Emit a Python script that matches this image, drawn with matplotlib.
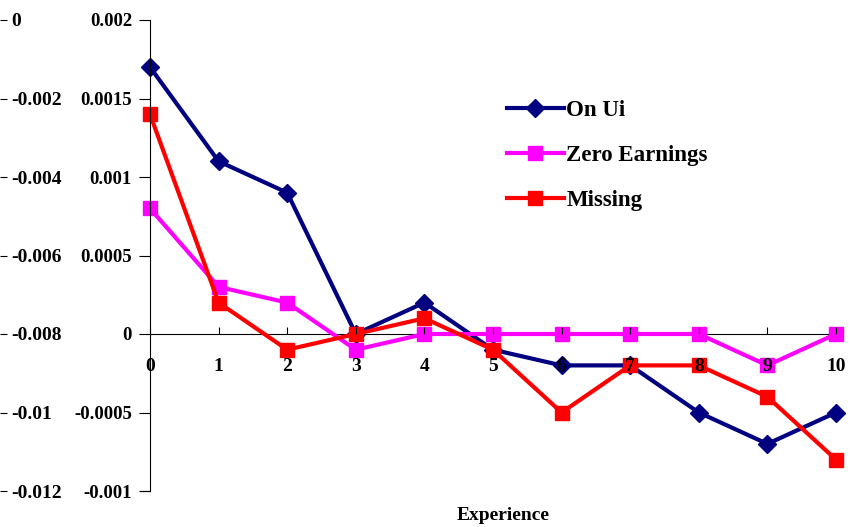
import numpy as np
import matplotlib
matplotlib.use("Agg")
import matplotlib.pyplot as plt

# Experience 0..10
experience = list(range(11))
on_ui = [0.0017, 0.0011, 0.0009, 0.0, 0.0002, -0.0001, -0.0002, -0.0002, -0.0005, -0.0007, -0.0005]
zero_earnings = [0.0008, 0.0003, 0.0002, -0.0001, 0.0, 0.0, 0.0, 0.0, 0.0, -0.0002, 0.0]
missing = [0.0014, 0.0002, -0.0001, 0.0, 0.0001, -0.0001, -0.0005, -0.0002, -0.0002, -0.0004, -0.0008]

y_ticks = [-0.001, -0.0005, 0, 0.0005, 0.001, 0.0015, 0.002]
y_labels = ["-0.001", "-0.0005", "0", "0.0005", "0.001", "0.0015", "0.002"]
# tick labels of the neighbouring chart that is cut off at the left edge
left_ticks = [-0.012, -0.01, -0.008, -0.006, -0.004, -0.002, 0]
left_labels = ["-0.012", "-0.01", "-0.008", "-0.006", "-0.004", "-0.002", "0"]

plt.rcParams["font.family"] = ["Liberation Serif", "DejaVu Serif"]
plt.rcParams["font.weight"] = "bold"

W, H = 857, 527
fig = plt.figure(figsize=(W / 100, H / 100), dpi=100)
x0, x1 = 150 / W, 836 / W
y0, y1 = 1 - 491 / H, 1 - 20 / H
ax = fig.add_axes([x0, y0, x1 - x0, y1 - y0])

series = [
    ("On Ui", on_ui, "#000080", "D", 9),
    ("Zero Earnings", zero_earnings, "#FF00FF", "s", 10),
    ("Missing", missing, "#FF0000", "s", 10),
]
for name, vals, col, mk, ms in series:
    ax.plot(experience, vals, color=col, lw=3, marker=mk, ms=ms,
            label=name, clip_on=False, zorder=1)

ax.set_xlim(0, 10)
ax.set_ylim(-0.001, 0.002)
ax.set_yticks(y_ticks)
ax.set_yticklabels(y_labels)
ax.set_xticks(experience)
ax.set_xticklabels([str(e) for e in experience])
ax.xaxis.set_zorder(5)

for s in ["top", "right"]:
    ax.spines[s].set_visible(False)
ax.spines["bottom"].set_position(("data", 0))
ax.spines["bottom"].set_linewidth(0.8)
ax.spines["bottom"].set_zorder(0.5)
ax.spines["left"].set_linewidth(0.8)
ax.tick_params(axis="y", direction="out", length=8, width=0.8, pad=5, labelsize=13.5)
ax.tick_params(axis="x", direction="in", length=5, width=0.8, pad=17, labelsize=14)
ax.axhline(-0.001, xmin=-0.015, xmax=0, color="black", lw=0.8, clip_on=False)

fig.text(503 / W, 1 - 516 / H, "Experience", ha="center",
         va="center", fontsize=14, fontweight="bold")

leg = ax.legend(loc="upper left", bbox_to_anchor=(0.49, 0.875), frameon=False,
                handlelength=2.5, labelspacing=1.05, handletextpad=0.1,
                prop={"weight": "bold", "size": 16.5})

# remnant of the neighbouring chart on the left
ax0 = fig.add_axes([-0.2, y0, 0.2, y1 - y0])
ax0.set_ylim(-0.012, 0)
ax0.set_xticks([])
ax0.yaxis.tick_right()
ax0.set_yticks(left_ticks)
ax0.set_yticklabels(left_labels)
ax0.tick_params(axis="y", direction="out", length=5, width=0.8, pad=3, labelsize=14)
for s in ax0.spines.values():
    s.set_visible(False)
ax0.patch.set_visible(False)

fig.savefig("out.png", dpi=100)
